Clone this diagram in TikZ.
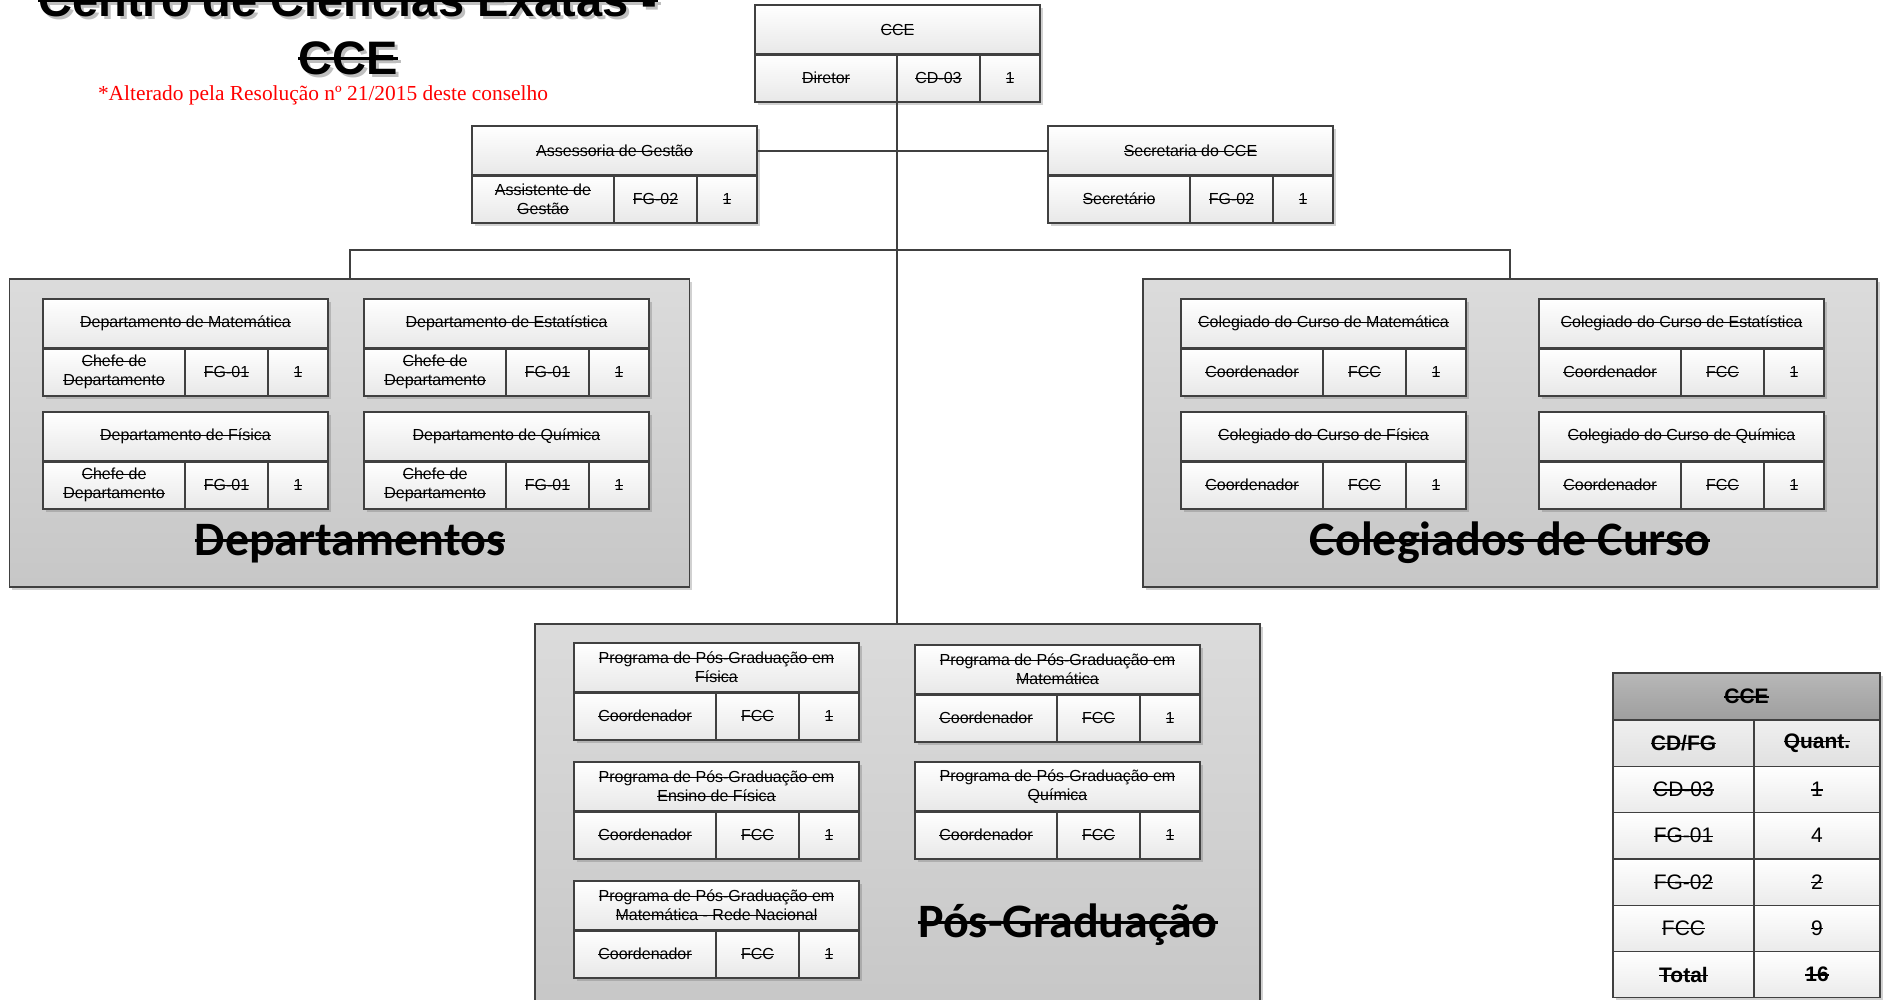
\documentclass[tikz,border=0pt]{standalone}
\usepackage{fontspec}
\setmainfont{Liberation Sans}
\newfontfamily\carlito{Carlito}
\newfontfamily\serifnota{Liberation Serif}
\usetikzlibrary{positioning,shadows}
\definecolor{borda}{RGB}{64,64,64}
\definecolor{vermelho}{RGB}{255,0,0}

% struck-out text
\newcommand\riscado[1]{\leavevmode\setbox0\hbox{#1}\rlap{\rule[0.55ex]{\wd0}{0.065em}}\box0}

% one unit: title above, cargo / code / quantity below
\newcommand\unidade[5]{%
    \node[cabeca, anchor=north west] (#1) at #2 {#3};
    \node[celula, minimum width=142pt, anchor=north west] (#1-cargo) at (#1.south west) {#4};
    \node[celula, minimum width=83pt, right=0pt of #1-cargo] (#1-cod) {\riscado{#5}};
    \node[celula, minimum width=60pt, right=0pt of #1-cod] (#1-qt) {\riscado{1}};
    \draw[divisa] (#1.south west) -- (#1.south east);
}

\begin{document}
\begin{tikzpicture}[
    x=1pt, y=-1pt,
    font={\fontsize{16}{19}\selectfont},
    sombra/.style={drop shadow={shadow xshift=2.5pt, shadow yshift=-2.5pt, opacity=.3, fill=black!60}},
    linha/.style={draw=borda, line width=2pt},
    grupo/.style={draw=borda, line width=1.3pt, top color=black!14, bottom color=black!22, sombra, anchor=north west, inner sep=0pt, outer sep=0pt},
    cabeca/.style={draw=borda, line width=1.3pt, top color=white, bottom color=black!9, sombra, minimum width=285pt, minimum height=49pt, align=center, inner sep=2pt, outer sep=0pt},
    celula/.style={cabeca, minimum height=48pt},
    divisa/.style={draw=borda, line width=3pt},
    rotulo/.style={font={\carlito\bfseries\fontsize{48}{56}\selectfont}, anchor=base},
    titulo/.style={font={\bfseries\fontsize{47}{56}\selectfont}, anchor=base},
    nota/.style={font={\serifnota\fontsize{21.4}{25}\selectfont}, text=vermelho, anchor=base},
    tabtopo/.style={draw=borda, line width=1.2pt, top color=black!28, bottom color=black!38, sombra, font={\fontsize{21}{25}\selectfont}, minimum width=267pt, minimum height=47pt, inner sep=2pt, outer sep=0pt},
    tabcab/.style={tabtopo, top color=black!6, bottom color=black!12, minimum height=46.3pt},
    tabcel/.style={tabtopo, top color=white, bottom color=black!8, minimum height=46.3pt}
]
\useasboundingbox (0,0) rectangle (1885,999);

% Title
\node[titulo, text=black!25] (sombra1) at (351,19) {\riscado{Centro de Ciências Exatas -}};
\node[titulo] (titulo1) at (348,16) {\riscado{Centro de Ciências Exatas -}};
\node[titulo, text=black!25] (sombra2) at (351,77) {\riscado{CCE}};
\node[titulo] (titulo2) at (348,74) {\riscado{CCE}};
\node[nota] (nota) at (323,100) {*Alterado pela Resolução nº 21/2015 deste conselho};

% Group backgrounds
\node[grupo, minimum width=680pt, minimum height=308pt] (gdep) at (9.6,279) {};
\node[grupo, minimum width=734pt, minimum height=308pt] (gcol) at (1143,279) {};
\node[grupo, minimum width=725pt, minimum height=390pt] (gpos) at (535,624) {};

\node[rotulo] (ldep) at (350,555) {\riscado{Departamentos}};
\node[rotulo] (lcol) at (1510,555) {\riscado{Colegiados de Curso}};
\node[rotulo] (lpos) at (1068,937) {\riscado{Pós-Graduação}};

% Direction
\unidade{cce}{(755,5)}{\riscado{CCE}}{\riscado{Diretor}}{CD-03}
\unidade{assess}{(472,126)}{\riscado{Assessoria de Gestão}}{\riscado{Assistente de}\\\riscado{Gestão}}{FG-02}
\unidade{secr}{(1048,126)}{\riscado{Secretaria do CCE}}{\riscado{Secretário}}{FG-02}

% Departamentos
\unidade{dmat}{(43,299)}{\riscado{Departamento de Matemática}}{\riscado{Chefe de}\\\riscado{Departamento}}{FG-01}
\unidade{dest}{(364,299)}{\riscado{Departamento de Estatística}}{\riscado{Chefe de}\\\riscado{Departamento}}{FG-01}
\unidade{dfis}{(43,412)}{\riscado{Departamento de Física}}{\riscado{Chefe de}\\\riscado{Departamento}}{FG-01}
\unidade{dqui}{(364,412)}{\riscado{Departamento de Química}}{\riscado{Chefe de}\\\riscado{Departamento}}{FG-01}

% Colegiados de Curso
\unidade{cmat}{(1181,299)}{\riscado{Colegiado do Curso de Matemática}}{\riscado{Coordenador}}{FCC}
\unidade{cest}{(1539,299)}{\riscado{Colegiado do Curso de Estatística}}{\riscado{Coordenador}}{FCC}
\unidade{cfis}{(1181,412)}{\riscado{Colegiado do Curso de Física}}{\riscado{Coordenador}}{FCC}
\unidade{cqui}{(1539,412)}{\riscado{Colegiado do Curso de Química}}{\riscado{Coordenador}}{FCC}

% Pos-Graduacao
\unidade{ppgfis}{(574,643)}{\riscado{Programa de Pós-Graduação em}\\\riscado{Física}}{\riscado{Coordenador}}{FCC}
\unidade{ppgmat}{(915,645)}{\riscado{Programa de Pós-Graduação em}\\\riscado{Matemática}}{\riscado{Coordenador}}{FCC}
\unidade{ppgens}{(574,762)}{\riscado{Programa de Pós-Graduação em}\\\riscado{Ensino de Física}}{\riscado{Coordenador}}{FCC}
\unidade{ppgqui}{(915,762)}{\riscado{Programa de Pós-Graduação em}\\\riscado{Química}}{\riscado{Coordenador}}{FCC}
\unidade{ppgrede}{(574,881)}{\riscado{Programa de Pós-Graduação em}\\\riscado{Matemática - Rede Nacional}}{\riscado{Coordenador}}{FCC}

% Connectors
\coordinate (ramo) at (897,250);
\draw[linha] (cce-cargo.south east) -- (cce-cargo.south east |- gpos.north);
\draw[linha] (assess.east) -- (secr.west);
\draw[linha] (gdep.north) |- (ramo) -| (gcol.north);

% Summary table
\node[tabtopo, anchor=north west] (tcce) at (1613,673) {\textbf{\riscado{CCE}}};
\node[tabcab, minimum width=141pt, anchor=north west] (tcab-a) at (tcce.south west) {\textbf{\riscado{CD/FG}}};
\node[tabcab, minimum width=126pt, right=0pt of tcab-a] (tcab-b) {\textbf{\riscado{Quant.}}};
\foreach \a/\b [count=\i] in {\riscado{CD-03}/\riscado{1}, \riscado{FG-01}/4, \riscado{FG-02}/\riscado{2}, \riscado{FCC}/\riscado{9}, \textbf{\riscado{Total}}/\textbf{\riscado{16}}} {
    \node[tabcel, minimum width=141pt, anchor=north west] (t\i-a) at (1613,{766.3+46.3*(\i-1)}) {\a};
    \node[tabcel, minimum width=126pt, right=0pt of t\i-a] (t\i-b) {\b};
}

\end{tikzpicture}
\end{document}
